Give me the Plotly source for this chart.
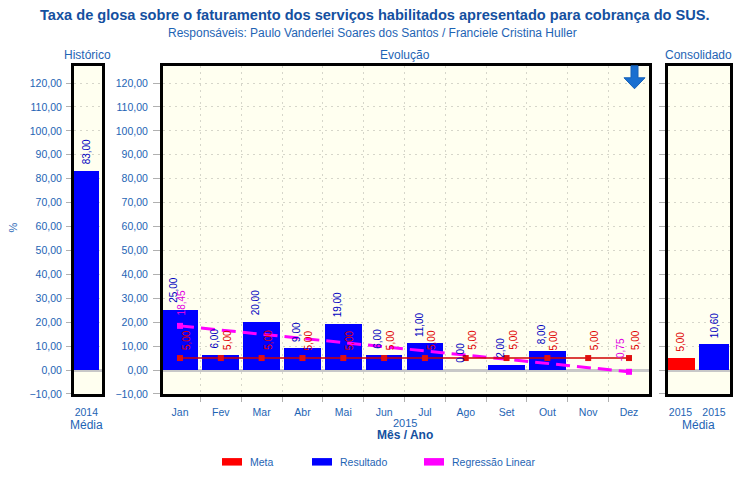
import plotly.graph_objects as go

# ---------------- data ----------------
months = ["Jan", "Fev", "Mar", "Abr", "Mai", "Jun", "Jul", "Ago", "Set", "Out", "Nov", "Dez"]
resultado = [25.0, 6.0, 20.0, 9.0, 19.0, 6.0, 11.0, 0.0, 2.0, 8.0, None, None]
meta = [5.0, 5.0, 5.0, 5.0, 5.0, 5.0, 5.0, 5.0, 5.0, 5.0, 5.0, 5.0]
regressao_months = ["Jan", "Dez"]
regressao = [18.45, -0.75]

hist_labels = ["2014"]
hist_resultado = [83.0]

consol_labels = ["2015", "2015"]
consol_meta = [5.0]
consol_resultado = [10.60]

year_label = "2015"

# ---------------- style ----------------
W, H = 754, 485
FONT = "Liberation Sans, Arial, sans-serif"
TXT = "#1E64B4"
TITLE_C = "#1450A0"
BG = "#FFFFF0"
GRID = "#D6D6CA"
BLUE = "#0000FF"
RED = "#FF0000"
MAG = "#FF00FF"


def fmt(v):
    return f"{v:.2f}".replace(".", ",")


def px(x):
    return x / W


def py(y):
    y = y + (y - 15) * 0.012
    return 1 - y / H


ydom = [py(394.3), py(66.5)]
yrange = [-10, 127.0]

fig = go.Figure()

# Historico
fig.add_trace(go.Bar(x=[0], y=hist_resultado, width=1, marker=dict(color=BLUE, line=dict(width=0)),
                     xaxis="x", yaxis="y", showlegend=False, hoverinfo="skip"))

# Evolucao
xi = list(range(len(months)))
fig.add_trace(go.Bar(x=xi, y=resultado, width=0.9, marker=dict(color=BLUE, line=dict(width=0)),
                     xaxis="x2", yaxis="y2", showlegend=False))
reg_x = [months.index(m) for m in regressao_months]
fig.add_trace(go.Scatter(x=reg_x, y=regressao, mode="lines+markers",
                         line=dict(color=MAG, width=3, dash="14px,7px"),
                         marker=dict(symbol="square", size=6, color=MAG),
                         xaxis="x2", yaxis="y2", showlegend=False))
fig.add_trace(go.Scatter(x=xi, y=meta, mode="lines+markers",
                         line=dict(color="#D00000", width=1.5),
                         marker=dict(symbol="square", size=6, color="#E01010"),
                         xaxis="x2", yaxis="y2", showlegend=False))

# Consolidado
fig.add_trace(go.Bar(x=[0], y=consol_meta, width=0.87, marker=dict(color=RED, line=dict(width=0)),
                     xaxis="x3", yaxis="y3", showlegend=False))
fig.add_trace(go.Bar(x=[1], y=consol_resultado, width=0.87, marker=dict(color=BLUE, line=dict(width=0)),
                     xaxis="x3", yaxis="y3", showlegend=False))

tickfont = dict(family=FONT, size=10.5, color=TXT)

yax_common = dict(range=yrange, dtick=10, tick0=0, tickformat=".2f", ticks="outside",
                  tickcolor="#B0B0B0", tickfont=tickfont, showgrid=True, gridcolor=GRID, griddash="2px,4px",
                  gridwidth=1, zeroline=True, zerolinecolor="#C8C8C8", zerolinewidth=3,
                  showline=True, linecolor="black", linewidth=3, mirror=True, domain=ydom,
                  fixedrange=True)

xax_common = dict(showline=True, linecolor="black", linewidth=3, mirror=True, zeroline=False,
                  tickfont=tickfont, fixedrange=True)

fig.update_layout(
    width=W, height=H,
    margin=dict(l=0, r=0, t=0, b=0),
    paper_bgcolor="white", plot_bgcolor=BG,
    separators=",.",
    font=dict(family=FONT, color=TXT),
    bargap=0,
    xaxis=dict(domain=[px(74), px(102)], range=[-0.5, 0.634], tickvals=[0], ticktext=hist_labels,
               ticks="", showgrid=False, anchor="y", ticklabelstandoff=6, **xax_common),
    yaxis=dict(anchor="x", ticklen=5, ticklabelstandoff=2, **yax_common),
    xaxis2=dict(domain=[px(163), px(649)], range=[-0.417, 11.49], tickvals=xi, ticktext=months,
                ticks="", showgrid=False, anchor="y2", ticklabelstandoff=6,
                minor=dict(tick0=0.5, dtick=1, ticks="outside", ticklen=5, tickcolor="#B0B0B0",
                           showgrid=True, gridcolor=GRID, griddash="2px,4px", gridwidth=1),
                **xax_common),
    yaxis2=dict(anchor="x2", ticklen=7, ticklabelstandoff=3, **yax_common),
    xaxis3=dict(domain=[px(668), px(730)], range=[-0.373, 1.478], tickvals=[0, 1], ticktext=consol_labels,
                ticks="", showgrid=False, anchor="y3", ticklabelstandoff=6, **xax_common),
    yaxis3=dict(anchor="x3", showticklabels=False, ticklen=6, **yax_common),
)

ann = []
# titles
ann.append(dict(x=px(375), y=py(15), xref="paper", yref="paper", showarrow=False,
                text="<b>Taxa de glosa sobre o faturamento dos serviços habilitados apresentado para cobrança do SUS.</b>",
                font=dict(family=FONT, size=14.6, color=TITLE_C), xanchor="center", yanchor="middle"))
ann.append(dict(x=px(372), y=py(33), xref="paper", yref="paper", showarrow=False,
                text="Responsáveis: Paulo Vanderlei Soares dos Santos / Franciele Cristina Huller",
                font=dict(family=FONT, size=12, color=TXT), xanchor="center", yanchor="middle"))
for t, xc in [("Histórico", 87), ("Evolução", 405), ("Consolidado", 698)]:
    ann.append(dict(x=px(xc), y=py(55), xref="paper", yref="paper", showarrow=False, text=t,
                    font=dict(family=FONT, size=12, color=TXT), xanchor="center", yanchor="middle"))
ann.append(dict(x=px(13), y=py(228), xref="paper", yref="paper", showarrow=False, text="%",
                textangle=90, font=dict(family=FONT, size=11, color=TXT), xanchor="center", yanchor="middle"))
for xc in [86, 698]:
    ann.append(dict(x=px(xc), y=py(425), xref="paper", yref="paper", showarrow=False, text="Média",
                    font=dict(family=FONT, size=12, color=TXT), xanchor="center", yanchor="middle"))
ann.append(dict(x=px(405), y=py(423), xref="paper", yref="paper", showarrow=False, text=year_label,
                font=dict(family=FONT, size=11, color=TXT), xanchor="center", yanchor="middle"))
ann.append(dict(x=px(405), y=py(435), xref="paper", yref="paper", showarrow=False, text="<b>Mês / Ano</b>",
                font=dict(family=FONT, size=12, color=TITLE_C), xanchor="center", yanchor="middle"))

# data labels
lab = dict(showarrow=False, textangle=-90, xanchor="center", yanchor="bottom")
for v in hist_resultado:
    ann.append(dict(x=0, y=v, xref="x", yref="y", text=fmt(v), yshift=5,
                    font=dict(family=FONT, size=10, color="#0000C0"), **lab))
for i, v in enumerate(resultado):
    if v is not None:
        ann.append(dict(x=i, y=v, xref="x2", yref="y2", text=fmt(v), yshift=5, xshift=-6,
                        font=dict(family=FONT, size=10, color="#0000C0"), **lab))
for i, v in enumerate(meta):
    ann.append(dict(x=i, y=v, xref="x2", yref="y2", text=fmt(v), yshift=6, xshift=6,
                    font=dict(family=FONT, size=10, color="#E00000"), **lab))
for j, (xv, v) in enumerate(zip(reg_x, regressao)):
    ann.append(dict(x=xv, y=v, xref="x2", yref="y2", text=fmt(v), yshift=8, xshift=(1 if j == 0 else -9),
                    font=dict(family=FONT, size=10, color="#E000E0"), **lab))
ann.append(dict(x=0, y=consol_meta[0], xref="x3", yref="y3", text=fmt(consol_meta[0]), yshift=5,
                font=dict(family=FONT, size=10, color="#E00000"), **lab))
ann.append(dict(x=1, y=consol_resultado[0], xref="x3", yref="y3", text=fmt(consol_resultado[0]), yshift=5,
                font=dict(family=FONT, size=10, color="#0000C0"), **lab))

# legend (custom)
shapes = []
for name, color, x0 in [("Meta", RED, 222), ("Resultado", BLUE, 312), ("Regressão Linear", MAG, 424)]:
    shapes.append(dict(type="rect", xref="paper", yref="paper", x0=px(x0), x1=px(x0 + 20),
                       y0=py(466), y1=py(458.5), fillcolor=color, line=dict(width=0)))
    ann.append(dict(x=px(x0 + 26), y=py(462.5), xref="paper", yref="paper", showarrow=False, text=name,
                    font=dict(family=FONT, size=10.5, color=TXT), xanchor="left", yanchor="middle"))

# trend arrow icon
path = (f"M{px(631)},{py(66)} L{px(638)},{py(66)} L{px(638)},{py(78)} L{px(645)},{py(78)} "
        f"L{px(634.5)},{py(89)} L{px(624)},{py(78)} L{px(631)},{py(78)} Z")
shapes.append(dict(type="path", xref="paper", yref="paper", path=path, fillcolor="#1A6FD0",
                   line=dict(color="#1560B8", width=1)))

fig.update_layout(annotations=ann, shapes=shapes)
fig.write_html("out.html")
